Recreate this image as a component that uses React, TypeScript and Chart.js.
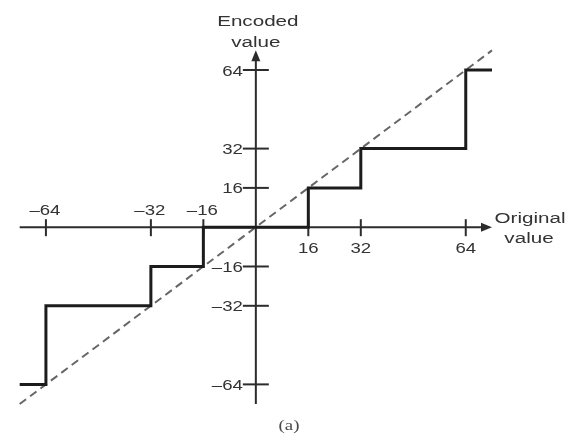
import React, { useEffect, useRef } from "react";
import { Chart, registerables } from "chart.js";

Chart.register(...registerables);

// Quantizer decision thresholds (original value) and output levels (encoded value)
const thresholds = [-72, -64, -32, -16, 16, 32, 64, 72];
const levels = [-64, -32, -16, 0, 16, 32, 64, 64];
// Reference identity line (encoded = original)
const identityX = [-72, 72];
const identityY = [-72, 72];
// Axis ticks
const xTickValues = [-64, -32, -16, 16, 32, 64];
const xTickLabels = ["–64", "–32", "–16", "16", "32", "64"];
const yTickValues = [-64, -32, -16, 16, 32, 64];
const yTickLabels = ["–64", "–32", "–16", "16", "32", "64"];
const axisExtent = 72;
const xTitle = ["Original", "value"];
const yTitle = ["Encoded", "value"];
const caption = "(a)";

const FONT = '15.5px "Liberation Sans", Arial, sans-serif';
const STRETCH = 1.2;
const TITLE_STRETCH = 1.33;

function drawText(
  ctx: CanvasRenderingContext2D,
  text: string,
  x: number,
  y: number,
  align: CanvasTextAlign,
  font: string = FONT,
  sx: number = STRETCH,
  color: string = "#333"
) {
  ctx.save();
  ctx.translate(x, y);
  ctx.scale(sx, 1);
  ctx.font = font;
  ctx.fillStyle = color;
  ctx.textAlign = align;
  ctx.textBaseline = "alphabetic";
  ctx.fillText(text, 0, 0);
  ctx.restore();
}

const axesPlugin = {
  id: "centeredAxes",
  beforeDatasetsDraw(chart: any) {
    const ctx: CanvasRenderingContext2D = chart.ctx;
    const xs = chart.scales.x;
    const ys = chart.scales.y;
    const x0 = xs.getPixelForValue(0);
    const y0 = ys.getPixelForValue(0);
    const xl = xs.getPixelForValue(-axisExtent);
    const xr = xs.getPixelForValue(axisExtent);
    const yb = ys.getPixelForValue(-axisExtent);
    const yt = ys.getPixelForValue(axisExtent);

    ctx.save();
    ctx.strokeStyle = "#2c2c2c";
    ctx.fillStyle = "#2c2c2c";
    ctx.lineWidth = 2;

    // x axis
    ctx.beginPath();
    ctx.moveTo(xl, y0);
    ctx.lineTo(xr - 8, y0);
    ctx.stroke();
    ctx.beginPath();
    ctx.moveTo(xr, y0);
    ctx.lineTo(xr - 11, y0 - 4.5);
    ctx.lineTo(xr - 11, y0 + 4.5);
    ctx.closePath();
    ctx.fill();

    // y axis
    ctx.beginPath();
    ctx.moveTo(x0, yb);
    ctx.lineTo(x0, yt + 8);
    ctx.stroke();
    ctx.beginPath();
    ctx.moveTo(x0, yt);
    ctx.lineTo(x0 - 4.5, yt + 11);
    ctx.lineTo(x0 + 4.5, yt + 11);
    ctx.closePath();
    ctx.fill();

    // x ticks
    xTickValues.forEach((v, i) => {
      const px = xs.getPixelForValue(v);
      ctx.beginPath();
      ctx.moveTo(px, y0 - 8);
      ctx.lineTo(px, y0 + 9);
      ctx.stroke();
      if (v < 0) {
        drawText(ctx, xTickLabels[i], px - 1, y0 - 12, "center");
      } else {
        drawText(ctx, xTickLabels[i], px, y0 + 26, "center");
      }
    });

    // y ticks
    yTickValues.forEach((v, i) => {
      const py = ys.getPixelForValue(v);
      ctx.beginPath();
      ctx.moveTo(x0 - 13, py);
      ctx.lineTo(x0 + 13, py);
      ctx.stroke();
      drawText(ctx, yTickLabels[i], x0 - 13, py + 5.5, "right");
    });

    // axis titles
    drawText(ctx, yTitle[0], x0 + 2, 26, "center", FONT, TITLE_STRETCH);
    drawText(ctx, yTitle[1], x0, 47, "center", FONT, TITLE_STRETCH);
    drawText(ctx, xTitle[0], 530, y0 - 4, "center", FONT, TITLE_STRETCH);
    drawText(ctx, xTitle[1], 529, y0 + 16, "center", FONT, TITLE_STRETCH);

    // caption
    drawText(ctx, caption, 289, 430, "center", '14px "Liberation Serif", "Times New Roman", serif', 1.35, "#4a4a4a");
    ctx.restore();
  },
};

export default function App() {
  const canvasRef = useRef<HTMLCanvasElement | null>(null);

  useEffect(() => {
    if (!canvasRef.current) return;
    const chart = new Chart(canvasRef.current, {
      type: "line",
      data: {
        datasets: [
          {
            label: "Encoded",
            data: thresholds.map((x, i) => ({ x, y: levels[i] })),
            stepped: "before",
            borderColor: "#1c1c1c",
            borderWidth: 3,
            pointRadius: 0,
            fill: false,
            borderJoinStyle: "miter",
            borderCapStyle: "butt",
          },
          {
            label: "Identity",
            data: identityX.map((x, i) => ({ x, y: identityY[i] })),
            borderColor: "#666",
            borderWidth: 2,
            borderDash: [8, 5],
            pointRadius: 0,
            fill: false,
          },
        ],
      },
      options: {
        animation: false,
        responsive: true,
        maintainAspectRatio: false,
        layout: { padding: 0 },
        plugins: {
          legend: { display: false },
          tooltip: { enabled: false },
          title: { display: false },
        },
        scales: {
          x: { type: "linear", display: false, min: -78, max: 97 },
          y: { type: "linear", display: false, min: -84.2, max: 92.5 },
        },
      },
      plugins: [axesPlugin],
    } as any);
    return () => chart.destroy();
  }, []);

  return (
    <div
      style={{
        position: "fixed",
        left: 0,
        top: 0,
        width: 574,
        height: 434,
        background: "#fff",
      }}
    >
      <canvas ref={canvasRef} />
    </div>
  );
}
